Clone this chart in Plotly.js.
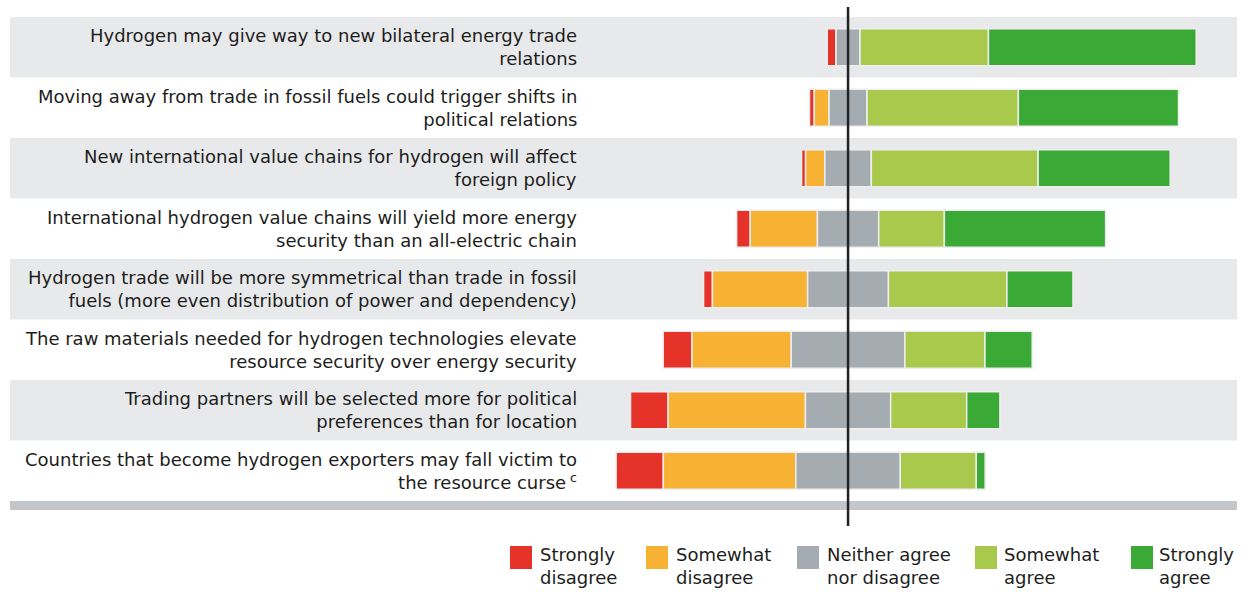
<!DOCTYPE html>
<html>
<head>
<meta charset="utf-8">
<script src="https://cdn.plot.ly/plotly-3.0.1.min.js"></script>
<style>html,body{margin:0;padding:0;background:#fff;}#chart{width:1247px;height:592px;}</style>
</head>
<body>
<div id="chart"></div>
<script>
const categories = [
  "Hydrogen may give way to new bilateral energy trade<br>relations",
  "Moving away from trade in fossil fuels could trigger shifts in<br>political relations",
  "New international value chains for hydrogen will affect<br>foreign policy",
  "International hydrogen value chains will yield more energy<br>security than an all-electric chain",
  "Hydrogen trade will be more symmetrical than trade in fossil<br>fuels (more even distribution of power and dependency)",
  "The raw materials needed for hydrogen technologies elevate<br>resource security over energy security",
  "Trading partners will be selected more for political<br>preferences than for location",
  "Countries that become hydrogen exporters may fall victim to<br>the resource curse<sup> c</sup>"
];
const seriesNames = ["Strongly<br>disagree", "Somewhat<br>disagree", "Neither agree<br>nor disagree", "Somewhat<br>agree", "Strongly<br>agree"];
const stronglyDisagree = [2.4, 1.3, 1.1, 3.7, 2.4, 7.8, 10.2, 12.8];
const somewhatDisagree = [0.0, 4.0, 5.2, 18.2, 25.8, 26.9, 37.2, 35.9];
const neutral          = [6.5, 10.3, 12.6, 16.6, 21.9, 30.8, 23.1, 28.3];
const somewhatAgree    = [34.8, 41.0, 45.2, 17.8, 32.1, 21.7, 20.6, 20.6];
const stronglyAgree    = [56.3, 43.4, 35.8, 43.7, 17.9, 12.8, 9.0, 2.4];

const colors = ["#e5332a", "#f7b133", "#a5acb1", "#a9c94c", "#3aa935"];
const series = [stronglyDisagree, somewhatDisagree, neutral, somewhatAgree, stronglyAgree];

// layout geometry (pixels)
const W = 1247, H = 592;
const mL = 10, mR = 10, mT = 17, mB = 91;
const pw = W - mL - mR, ph = H - mT - mB;
const px2x = p => (p - mL) / pw;
const px2y = p => (H - mB - p) / ph;

const rows = categories.map((_, i) => i);
// starting point of each bar: neutral is centred on zero
const starts = rows.map(i => -(stronglyDisagree[i] + somewhatDisagree[i] + neutral[i] / 2));

const traces = [];
let cum = starts.slice();
series.forEach((vals, k) => {
  traces.push({
    type: "bar",
    orientation: "h",
    y: rows,
    x: vals,
    base: cum.slice(),
    width: 0.61,
    name: seriesNames[k],
    marker: {color: colors[k], line: {color: "#eeeeee", width: 1.5}},
    hoverinfo: "skip",
    showlegend: false
  });
  cum = cum.map((c, i) => c + vals[i]);
});

const shapes = [];
rows.forEach(i => {
  if (i % 2 === 0) {
    shapes.push({type: "rect", layer: "below", xref: "paper", yref: "y", x0: 0, x1: 1, y0: i - 0.5, y1: i + 0.5,
      fillcolor: "#e8e9eb", line: {width: 0}});
  }
});
shapes.push({type: "rect", layer: "below", xref: "paper", yref: "paper", x0: 0, x1: 1, y0: px2y(510), y1: px2y(501),
  fillcolor: "#c3c7ca", line: {width: 0}});
shapes.push({type: "line", layer: "above", xref: "x", yref: "paper", x0: 0, x1: 0, y0: px2y(526), y1: px2y(7),
  line: {color: "#222222", width: 2.5}});

const FONT = "DejaVu Sans, Liberation Sans, Arial, sans-serif";
const annotations = rows.map(i => ({
  xref: "paper", yref: "y", x: px2x(579), y: i, xanchor: "right", yanchor: "middle", align: "right",
  text: categories[i], showarrow: false,
  font: {family: FONT, size: 18, color: "#1d1d1b"}
}));

// custom legend
const legendSq = [510, 646, 797, 975, 1131];
const legendTx = [538, 674, 825, 1002, 1157];
seriesNames.forEach((n, k) => {
  shapes.push({type: "rect", xref: "paper", yref: "paper", x0: px2x(legendSq[k]), x1: px2x(legendSq[k] + 22),
    y0: px2y(569), y1: px2y(546), fillcolor: colors[k], line: {width: 0}});
  annotations.push({xref: "paper", yref: "paper", x: px2x(legendTx[k]), y: px2y(566), xanchor: "left", yanchor: "middle",
    align: "left", text: n, showarrow: false,
    font: {family: FONT, size: 18, color: "#1d1d1b"}});
});

const layout = {
  width: W, height: H,
  margin: {l: mL, r: mR, t: mT, b: mB, pad: 0},
  paper_bgcolor: "#ffffff", plot_bgcolor: "rgba(0,0,0,0)",
  barmode: "overlay",
  showlegend: false,
  xaxis: {range: [-227.1, 105.4], visible: false, fixedrange: true},
  yaxis: {range: [7.5, -0.5], visible: false, fixedrange: true},
  shapes: shapes,
  annotations: annotations
};

Plotly.newPlot("chart", traces, layout, {displayModeBar: false, staticPlot: true});
</script>
</body>
</html>
